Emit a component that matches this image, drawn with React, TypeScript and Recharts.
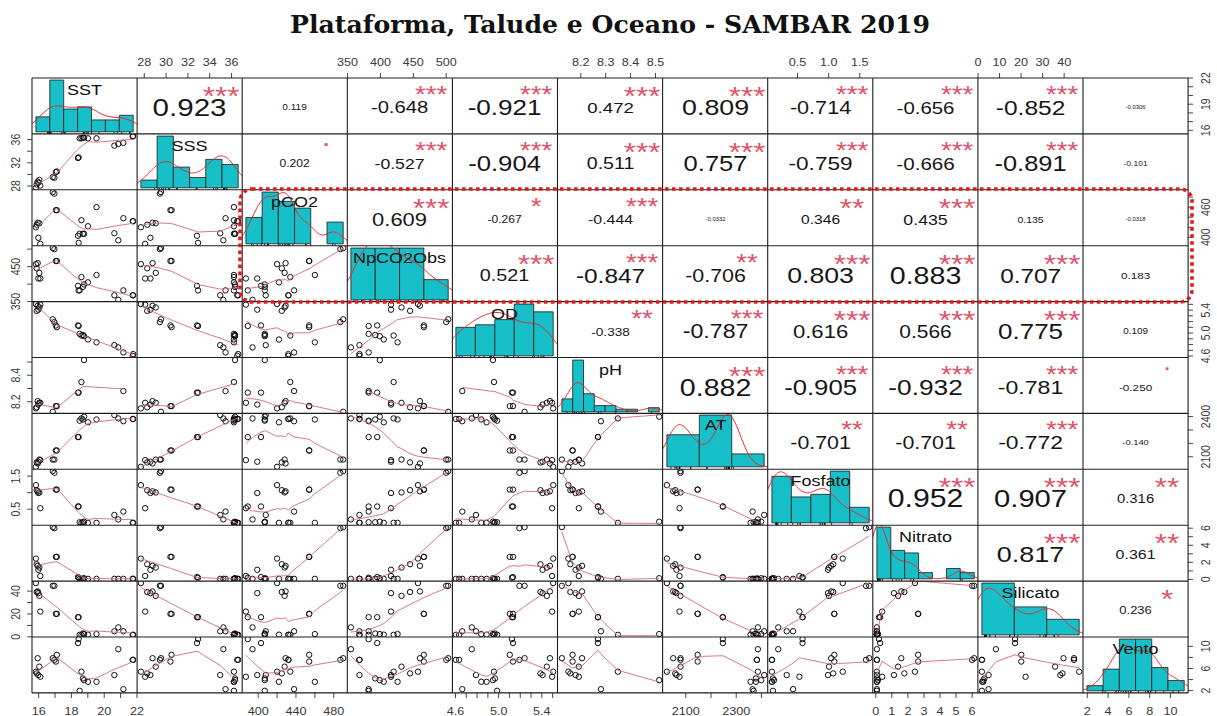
import React from 'react';
import { ComposedChart, Scatter, XAxis, YAxis, ReferenceArea } from 'recharts';

// ---------- measurements (one entry per sample, null = not measured) ----------
const VAR_NAMES = ['SST', 'SSS', 'pCO2', 'NpCO2Obs', 'OD', 'pH', 'AT', 'Fosfato', 'Nitrato', 'Silicato', 'Vento'];

const SST = [15.83, 15.94, 16.04, 15.98, 16.1, 15.88, 16.86, 16.96, 17.11, 17.05, 18.4, 18.44, 18.5, 18.61, 18.77, 19.01, 18.7, 19.53, 20.62, 20.86, 21.17, 21.77, 21.74];
const SSS = [27.69, 28.76, 29.05, 28.56, 28.08, 28.27, 29.53, 29.43, 30.5, 30.4, 32.83, 32.93, 36.22, 36.22, 36.32, 36.22, 36.32, 36.22, 34.96, 35.25, 35.45, 36.61, 36.52];
const PCO2 = [420, 429, 428, 399, 387, 425, 490, 487, 454, 454, 403, 389, 407, 434, 407, 422, 407, 460, 408, 394, 438, 432, 432];
const NPCO2OBS = [457, 460, 432, 416, 416, 445, 503, 500, 466, 466, 395, 382, 382, 420, 399, 405, 392, 426, 368, 355, 382, 368, 368];
const OD = [5.505, 5.475, 5.446, 5.407, 5.495, 5.387, 5.24, 5.192, 5.103, 5.133, 5.133, 5.123, 4.986, 4.957, 4.947, 4.888, 4.966, 4.839, 4.79, 4.751, 4.663, 4.634, 4.604];
const PH = [8.15, 8.205, 8.192, 8.179, 8.192, 8.158, 8.124, null, 8.167, 8.167, 8.269, 8.269, null, 8.349, 8.515, null, null, null, null, null, 8.281, null, null];
const AT = [2025, 2050, 2079, 2063, 2075, 2058, 2079, 2079, 2147, 2147, 2247, 2247, 2369, 2386, 2399, 2357, 2378, 2378, 2411, 2386, 2365, 2382, 2382];
const FOSFATO = [1.227, 1.04, 1.006, 0.989, 0.53, 1.074, 1.652, 1.601, 1.091, 1.091, 0.581, 0.581, 0.105, 0.088, 0.122, 0.088, 0.105, 0.088, 0.326, 0.19, 0.428, 0.088, 0.088];
const NITRATO = [2.44, 1.59, 1.39, 1.13, 0.4, 1.78, 6.13, 6.0, 2.64, 2.64, 0.27, 0.2, 0.07, 0.07, 0.14, 0.07, 0.07, 0.07, 0.07, 0.07, 0.07, 0.07, 0.07];
const SILICATO = [47.0, 39.7, 35.8, 38.2, 22.1, 39.2, 44.6, 44.6, 20.1, 20.1, 17.2, 17.2, 1.8, 1.8, 2.45, 1.96, 2.94, 2.45, 4.9, 8.3, 4.9, 1.8, 1.8];
const VENTO = [5.42, 7.86, 6.33, 4.81, 4.5, 5.11, 7.86, 7.56, 8.47, 7.25, 10.6, 11.32, 1.96, 5.42, 3.89, 3.59, 4.2, 3.59, 4.81, 9.49, 2.26, 7.56, 7.56];

const COLUMNS: (number | null)[][] = [SST, SSS, PCO2, NPCO2OBS, OD, PH, AT, FOSFATO, NITRATO, SILICATO, VENTO];

// ---------- histogram bins on the diagonal (first break, bin width, relative bar heights) ----------
const HIST_START = [15, 26, 380, 350, 4.6, 8.1, 2000, 0, 0, 0, 0];
const HIST_STEP = [1, 2, 20, 40, 0.2, 0.05, 200, 0.4, 1, 20, 2];
const HIST_HEIGHTS = [
  [0.29, 1, 0.44, 0.48, 0.23, 0.23, 0.32],
  [0.15, 1, 0.4, 0.2, 0.55, 0.45],
  [0.51, 1, 0.82, 0.69, 0, 0.42],
  [1, 1, 1, 0.39],
  [0.55, 0.6, 0.7, 1, 0.85],
  [0.25, 1, 0.35, 0.12, 0.12, 0.05, 0.05, 0, 0.08],
  [0.62, 1, 0.25],
  [0.9, 0.5, 0.55, 1, 0.3],
  [1, 0.55, 0.5, 0.12, 0, 0.2, 0.12],
  [1, 0.54, 0.3],
  [0.1, 0.42, 1, 1, 0.45, 0.2],
];

// ---------- correlation coefficients and significance (upper triangle, row by row) ----------
const COR_TEXT = [
  ['0.923', '0.119', '-0.648', '-0.921', '0.472', '0.809', '-0.714', '-0.656', '-0.852', '-0.0306'],
  ['0.202', '-0.527', '-0.904', '0.511', '0.757', '-0.759', '-0.666', '-0.891', '-0.101'],
  ['0.609', '-0.267', '-0.444', '-0.0332', '0.346', '0.435', '0.135', '-0.0318'],
  ['0.521', '-0.847', '-0.706', '0.803', '0.883', '0.707', '0.183'],
  ['-0.338', '-0.787', '0.616', '0.566', '0.775', '0.109'],
  ['0.882', '-0.905', '-0.932', '-0.781', '-0.250'],
  ['-0.701', '-0.701', '-0.772', '-0.140'],
  ['0.952', '0.907', '0.316'],
  ['0.817', '0.361'],
  ['0.236'],
];
const COR_STARS = [
  ['***', '', '***', '***', '***', '***', '***', '***', '***', ''],
  ['.', '***', '***', '***', '***', '***', '***', '***', ''],
  ['***', '*', '***', '', '**', '***', '', ''],
  ['***', '***', '**', '***', '***', '***', ''],
  ['**', '***', '***', '***', '***', ''],
  ['***', '***', '***', '***', '.'],
  ['**', '**', '***', ''],
  ['***', '***', '**'],
  ['***', '**'],
  ['*'],
];

// ---------- axis ticks and the labels printed on them ----------
const AXIS_TICKS = [
  [16, 17, 18, 19, 20, 21, 22],
  [28, 30, 32, 34, 36],
  [400, 420, 440, 460, 480],
  [350, 400, 450, 500],
  [4.6, 4.7, 4.8, 4.9, 5.0, 5.1, 5.2, 5.3, 5.4, 5.5],
  [8.2, 8.3, 8.4, 8.5],
  [2100, 2200, 2300, 2400],
  [0.5, 1.0, 1.5],
  [0, 1, 2, 3, 4, 5, 6],
  [0, 10, 20, 30, 40],
  [2, 4, 6, 8, 10],
];
const LABELS_HORIZONTAL = [
  ['16', '18', '20', '22'],
  ['28', '30', '32', '34', '36'],
  ['400', '440', '480'],
  ['350', '400', '450', '500'],
  ['4.6', '5.0', '5.4'],
  ['8.2', '8.3', '8.4', '8.5'],
  ['2100', '2300'],
  ['0.5', '1.0', '1.5'],
  ['0', '1', '2', '3', '4', '5', '6'],
  ['0', '10', '20', '30', '40'],
  ['2', '4', '6', '8', '10'],
];
const LABELS_VERTICAL = [
  ['16', '19', '22'],
  ['28', '32', '36'],
  ['400', '460'],
  ['350', '450'],
  ['4.6', '5.0', '5.4'],
  ['8.2', '8.4'],
  ['2100', '2400'],
  ['0.5', '1.5'],
  ['0', '2', '4', '6'],
  ['0', '20', '40'],
  ['2', '6', '10'],
];

// ---------- layout ----------
const N = VAR_NAMES.length;
const X0 = 32;
const Y0 = 78;
const CELL_W = 105.1;
const CELL_H = 55.9;
const SX = 1.2; // glyphs are drawn a little wider than tall
const FONT = "'Liberation Sans', Arial, sans-serif";
const AX_FS = 10.5;
const NO_MARGIN = { top: 0, right: 0, bottom: 0, left: 0 };
const BAR_FILL = '#17C0C8';
const SMOOTH_COLOR = '#CF6C78';
const DENSITY_COLOR = '#E3262B';
const STAR_COLOR = '#DF536B';
const AXIS_PAD = 22; // room for tick labels that hang past a panel edge

// ---------- helpers ----------
const present = (v: (number | null)[]) => v.filter((d): d is number => d !== null && d !== undefined);

function usrRange(v: (number | null)[]): [number, number] {
  const vals = present(v);
  const lo = Math.min(...vals);
  const hi = Math.max(...vals);
  const d = (hi - lo) * 0.04;
  return [lo - d, hi + d];
}
const USR = COLUMNS.map(usrRange);

function lowess(xIn: number[], yIn: number[], f = 2 / 3, iter = 3) {
  const order = xIn.map((_, i) => i).sort((a, b) => xIn[a] - xIn[b]);
  const x = order.map((i) => xIn[i]);
  const y = order.map((i) => yIn[i]);
  const n = x.length;
  const ys = new Array(n).fill(0);
  if (n < 2) return x.map((v, k) => ({ x: v, y: y[k] }));
  const ns = Math.max(2, Math.min(n, Math.floor(f * n + 1e-7)));
  const delta = 0.01 * (x[n - 1] - x[0]);
  const rw = new Array(n).fill(1);
  const res = new Array(n).fill(0);
  const w = new Array(n).fill(0);
  const range = x[n - 1] - x[0];

  const lowest = (xs: number, nleft: number, nright: number, userw: boolean): number | null => {
    const h = Math.max(xs - x[nleft], x[nright] - xs);
    const h9 = 0.999 * h;
    const h1 = 0.001 * h;
    let a = 0;
    let j = nleft;
    while (j < n) {
      w[j] = 0;
      const r = Math.abs(x[j] - xs);
      if (r <= h9) {
        w[j] = r <= h1 ? 1 : Math.pow(1 - Math.pow(r / h, 3), 3);
        if (userw) w[j] *= rw[j];
        a += w[j];
      } else if (x[j] > xs) break;
      j++;
    }
    const nrt = j - 1;
    if (a <= 0) return null;
    for (j = nleft; j <= nrt; j++) w[j] /= a;
    if (h > 0) {
      a = 0;
      for (j = nleft; j <= nrt; j++) a += w[j] * x[j];
      let b = xs - a;
      let c = 0;
      for (j = nleft; j <= nrt; j++) c += w[j] * (x[j] - a) * (x[j] - a);
      if (Math.sqrt(c) > 0.001 * range) {
        b /= c;
        for (j = nleft; j <= nrt; j++) w[j] *= b * (x[j] - a) + 1;
      }
    }
    let s = 0;
    for (j = nleft; j <= nrt; j++) s += w[j] * y[j];
    return s;
  };

  for (let it = 1; it <= iter + 1; it++) {
    let nleft = 0;
    let nright = ns - 1;
    let last = -1;
    let i = 0;
    for (;;) {
      if (nright < n - 1) {
        const d1 = x[i] - x[nleft];
        const d2 = x[nright + 1] - x[i];
        if (d1 > d2) {
          nleft++;
          nright++;
          continue;
        }
      }
      const v = lowest(x[i], nleft, nright, it > 1);
      ys[i] = v === null ? y[i] : v;
      if (last < i - 1) {
        const denom = x[i] - x[last];
        for (let j = last + 1; j < i; j++) {
          const alpha = (x[j] - x[last]) / denom;
          ys[j] = alpha * ys[i] + (1 - alpha) * ys[last];
        }
      }
      last = i;
      const cut = x[last] + delta;
      for (i = last + 1; i < n; i++) {
        if (x[i] > cut) break;
        if (x[i] === x[last]) {
          ys[i] = ys[last];
          last = i;
        }
      }
      i = Math.max(last + 1, i - 1);
      if (last >= n - 1) break;
    }
    for (let k = 0; k < n; k++) res[k] = y[k] - ys[k];
    if (it > iter) break;
    const sc = res.reduce((s, r) => s + Math.abs(r), 0) / n;
    const absr = res.map((r) => Math.abs(r)).sort((a, b) => a - b);
    const m1 = Math.floor(n / 2);
    const cmad = n % 2 === 0 ? 3 * (absr[m1 - 1] + absr[m1]) : 6 * absr[m1];
    if (cmad < 1e-7 * sc || cmad === 0) break;
    const c9 = 0.999 * cmad;
    const c1 = 0.001 * cmad;
    for (let k = 0; k < n; k++) {
      const r = Math.abs(res[k]);
      rw[k] = r <= c1 ? 1 : r <= c9 ? Math.pow(1 - Math.pow(r / cmad, 2), 2) : 0;
    }
  }
  return x.map((v, k) => ({ x: v, y: ys[k] }));
}

function quantile(sorted: number[], p: number) {
  const h = (sorted.length - 1) * p;
  const lo = Math.floor(h);
  const hi = Math.min(lo + 1, sorted.length - 1);
  return sorted[lo] + (h - lo) * (sorted[hi] - sorted[lo]);
}

function kernelDensity(values: number[]) {
  const n = values.length;
  const mean = values.reduce((a, b) => a + b, 0) / n;
  const sd = Math.sqrt(values.reduce((a, b) => a + (b - mean) * (b - mean), 0) / (n - 1));
  const s = [...values].sort((a, b) => a - b);
  const iqr = quantile(s, 0.75) - quantile(s, 0.25);
  let lo = Math.min(sd, iqr / 1.34);
  if (!(lo > 0)) lo = sd || Math.abs(s[0]) || 1;
  const bw = 0.9 * lo * Math.pow(n, -0.2);
  const from = s[0] - 3 * bw;
  const to = s[n - 1] + 3 * bw;
  const pts = [];
  const steps = 160;
  for (let k = 0; k <= steps; k++) {
    const xv = from + ((to - from) * k) / steps;
    let d = 0;
    for (const v of values) {
      const z = (xv - v) / bw;
      d += Math.exp(-0.5 * z * z);
    }
    pts.push({ x: xv, y: d / (n * bw * Math.sqrt(2 * Math.PI)) });
  }
  return pts;
}

const CHAR_W: Record<string, number> = { '.': 0.278, '-': 0.333, '*': 0.389 };
const emWidth = (s: string) => [...s].reduce((a, c) => a + (CHAR_W[c] ?? 0.556), 0);

const Empty = () => <g />;

// ---------- panels ----------
function LowerPanel({ row, col }: { row: number; col: number }) {
  const xs = COLUMNS[col];
  const ys = COLUMNS[row];
  const pts: { x: number; y: number }[] = [];
  xs.forEach((xv, k) => {
    const yv = ys[k];
    if (xv !== null && yv !== null) pts.push({ x: xv, y: yv });
  });
  const smooth = lowess(pts.map((p) => p.x), pts.map((p) => p.y));
  return (
    <ComposedChart width={CELL_W} height={CELL_H} margin={NO_MARGIN}>
      <XAxis hide type="number" dataKey="x" domain={USR[col]} allowDataOverflow />
      <YAxis hide type="number" dataKey="y" domain={USR[row]} allowDataOverflow />
      <Scatter
        data={pts}
        isAnimationActive={false}
        shape={(p: any) => <circle cx={p.cx} cy={p.cy} r={2.7} fill="none" stroke="#111" strokeWidth={1} />}
      />
      <Scatter
        data={smooth}
        isAnimationActive={false}
        line={{ stroke: SMOOTH_COLOR, strokeWidth: 0.9 }}
        lineType="joint"
        shape={Empty}
      />
    </ComposedChart>
  );
}

function DiagPanel({ v }: { v: number }) {
  const heights = HIST_HEIGHTS[v];
  const step = HIST_STEP[v];
  const start = HIST_START[v];
  const total = heights.reduce((a, b) => a + b, 0) * step;
  const bins = heights.map((h, k) => ({ x0: start + k * step, x1: start + (k + 1) * step, d: h / total }));
  const b0 = start;
  const bn = start + heights.length * step;
  const xDom: [number, number] = [b0 - 0.04 * (bn - b0), bn + 0.04 * (bn - b0)];
  const maxD = Math.max(...bins.map((b) => b.d));
  const yDom: [number, number] = [-0.04 * maxD, 1.04 * maxD];
  const values = present(COLUMNS[v]);
  const dens = kernelDensity(values);
  const rug = values.map((x) => ({ x, y: yDom[0] }));
  const label = [{ x: (xDom[0] + xDom[1]) / 2, y: yDom[0] + 0.8 * (yDom[1] - yDom[0]) }];
  return (
    <ComposedChart width={CELL_W} height={CELL_H} margin={NO_MARGIN}>
      <XAxis hide type="number" dataKey="x" domain={xDom} allowDataOverflow />
      <YAxis hide type="number" dataKey="y" domain={yDom} allowDataOverflow />
      {bins
        .filter((b) => b.d > 0)
        .map((b, k) => (
          <ReferenceArea
            key={k}
            x1={b.x0}
            x2={b.x1}
            y1={0}
            y2={b.d}
            fill={BAR_FILL}
            fillOpacity={1}
            stroke="#1b1b1b"
            strokeWidth={0.8}
            ifOverflow="visible"
          />
        ))}
      <Scatter data={dens} isAnimationActive={false} line={{ stroke: DENSITY_COLOR, strokeWidth: 1 }} lineType="joint" shape={Empty} />
      <Scatter
        data={rug}
        isAnimationActive={false}
        shape={(p: any) => <line x1={p.cx} x2={p.cx} y1={p.cy} y2={p.cy - 2} stroke="#000" strokeWidth={0.8} />}
      />
      <Scatter
        data={label}
        isAnimationActive={false}
        shape={(p: any) => (
          <text
            transform={`translate(${p.cx},${p.cy + 0.358 * 15}) scale(${SX},1)`}
            textAnchor="middle"
            fontFamily={FONT}
            fontSize={15}
            fill="#111"
          >
            {VAR_NAMES[v]}
          </text>
        )}
      />
    </ComposedChart>
  );
}

function UpperPanel({ row, col }: { row: number; col: number }) {
  const txt = COR_TEXT[row][col - row - 1];
  const stars = COR_STARS[row][col - row - 1];
  const r = Math.abs(parseFloat(txt));
  const K = 0.748 * CELL_W;
  const baseFs = K / (SX * emWidth(txt));
  const numFs = (baseFs * (r + 0.3)) / 1.3;
  const marks = [
    { x: 0.5, y: 0.5, kind: 'r' },
    { x: 0.8, y: 0.8, kind: 's' },
  ];
  return (
    <ComposedChart width={CELL_W} height={CELL_H} margin={NO_MARGIN}>
      <XAxis hide type="number" dataKey="x" domain={[0, 1]} />
      <YAxis hide type="number" dataKey="y" domain={[0, 1]} />
      <Scatter
        data={marks}
        isAnimationActive={false}
        shape={(p: any) => {
          if (p.payload.kind === 'r') {
            return (
              <text
                transform={`translate(${p.cx},${p.cy + 0.358 * numFs + 1.5}) scale(${SX},1)`}
                textAnchor="middle"
                fontFamily={FONT}
                fontSize={numFs}
                fill="#161616"
              >
                {txt}
              </text>
            );
          }
          if (!stars) return <g />;
          const dy = stars === '.' ? 0.05 * baseFs : 0.6 * baseFs;
          return (
            <text
              transform={`translate(${p.cx},${p.cy + dy}) scale(${SX},1)`}
              textAnchor="middle"
              fontFamily={FONT}
              fontSize={baseFs}
              fill={STAR_COLOR}
            >
              {stars}
            </text>
          );
        }}
      />
    </ComposedChart>
  );
}

// ---------- outer axes ----------
function hTick(labels: string[], labelY: number) {
  return (p: any) => {
    const v = p.payload?.value;
    const lab = labels.find((s) => Math.abs(parseFloat(s) - v) < 1e-9);
    if (lab === undefined) return <g />;
    return (
      <text
        transform={`translate(${p.x},${labelY + 0.358 * AX_FS}) scale(${SX},1)`}
        textAnchor="middle"
        fontFamily={FONT}
        fontSize={AX_FS}
        fill="#3a3a3a"
      >
        {lab}
      </text>
    );
  };
}

function vTick(labels: string[], labelX: number) {
  return (p: any) => {
    const v = p.payload?.value;
    const lab = labels.find((s) => Math.abs(parseFloat(s) - v) < 1e-9);
    if (lab === undefined) return <g />;
    return (
      <text
        transform={`translate(${labelX},${p.y}) scale(${SX},1) rotate(-90)`}
        x={0}
        y={0.358 * AX_FS}
        textAnchor="middle"
        fontFamily={FONT}
        fontSize={AX_FS}
        fill="#3a3a3a"
      >
        {lab}
      </text>
    );
  };
}

function HorizontalAxis({ col, side }: { col: number; side: 'top' | 'bottom' }) {
  const H = 30;
  const top = side === 'top' ? Y0 - (H - 1) : Y0 + N * CELL_H - 1;
  const labelY = side === 'top' ? 62.7 - top : 711 - top;
  const pts = present(COLUMNS[col]).map((x) => ({ x, y: 0.5 }));
  const w = CELL_W + 2 * AXIS_PAD;
  return (
    <div style={{ position: 'absolute', left: X0 + col * CELL_W - AXIS_PAD, top, width: w, height: H }}>
      <ComposedChart width={w} height={H} margin={{ top: 0, bottom: 0, left: AXIS_PAD, right: AXIS_PAD }}>
        <XAxis
          type="number"
          dataKey="x"
          domain={USR[col]}
          allowDataOverflow
          orientation={side}
          height={H - 1}
          ticks={AXIS_TICKS[col]}
          interval={0}
          tickSize={5}
          axisLine={false}
          tickLine={{ stroke: '#333', strokeWidth: 0.9 }}
          tick={hTick(LABELS_HORIZONTAL[col], labelY)}
        />
        <YAxis hide type="number" dataKey="y" domain={[0, 1]} />
        <Scatter data={pts} isAnimationActive={false} shape={Empty} />
      </ComposedChart>
    </div>
  );
}

function VerticalAxis({ row, side }: { row: number; side: 'left' | 'right' }) {
  const W = 30;
  const left = side === 'left' ? X0 - (W - 1) : X0 + N * CELL_W - 1;
  const labelX = side === 'left' ? 15 - left : 1205.5 - left;
  const pts = present(COLUMNS[row]).map((y) => ({ x: 0.5, y }));
  const h = CELL_H + 2 * AXIS_PAD;
  return (
    <div style={{ position: 'absolute', left, top: Y0 + row * CELL_H - AXIS_PAD, width: W, height: h }}>
      <ComposedChart width={W} height={h} margin={{ top: AXIS_PAD, bottom: AXIS_PAD, left: 0, right: 0 }}>
        <XAxis hide type="number" dataKey="x" domain={[0, 1]} />
        <YAxis
          type="number"
          dataKey="y"
          domain={USR[row]}
          allowDataOverflow
          orientation={side}
          width={W - 1}
          ticks={AXIS_TICKS[row]}
          interval={0}
          tickSize={5}
          axisLine={false}
          tickLine={{ stroke: '#333', strokeWidth: 0.9 }}
          tick={vTick(LABELS_VERTICAL[row], labelX)}
        />
        <Scatter data={pts} isAnimationActive={false} shape={Empty} />
      </ComposedChart>
    </div>
  );
}

export default function App() {
  const cells: React.ReactNode[] = [];
  for (let i = 0; i < N; i++) {
    for (let j = 0; j < N; j++) {
      cells.push(
        <div
          key={`c${i}-${j}`}
          style={{ position: 'absolute', left: X0 + j * CELL_W, top: Y0 + i * CELL_H, width: CELL_W, height: CELL_H }}
        >
          {i === j ? <DiagPanel v={i} /> : i > j ? <LowerPanel row={i} col={j} /> : <UpperPanel row={i} col={j} />}
        </div>
      );
    }
  }
  const axes: React.ReactNode[] = [];
  for (let k = 0; k < N; k++) {
    axes.push(<HorizontalAxis key={`h${k}`} col={k} side={k % 2 === 1 ? 'top' : 'bottom'} />);
    axes.push(<VerticalAxis key={`v${k}`} row={k} side={k % 2 === 1 ? 'left' : 'right'} />);
  }
  const gridLines: React.ReactNode[] = [];
  for (let k = 0; k <= N; k++) {
    gridLines.push(
      <line key={`gv${k}`} x1={X0 + k * CELL_W} x2={X0 + k * CELL_W} y1={Y0} y2={Y0 + N * CELL_H} stroke="#1e1e1e" strokeWidth={1.1} />
    );
    gridLines.push(
      <line key={`gh${k}`} x1={X0} x2={X0 + N * CELL_W} y1={Y0 + k * CELL_H} y2={Y0 + k * CELL_H} stroke="#1e1e1e" strokeWidth={1.1} />
    );
  }
  return (
    <div style={{ position: 'absolute', left: 0, top: 0, width: 1217, height: 716, background: '#fff', overflow: 'hidden' }}>
      {cells}
      {axes}
      <svg width={1217} height={716} style={{ position: 'absolute', left: 0, top: 0, pointerEvents: 'none' }}>
        <text
          x={610}
          y={33}
          textAnchor="middle"
          fontFamily="'DejaVu Serif', serif"
          fontWeight="bold"
          fontSize={24}
          textLength={640}
          lengthAdjust="spacingAndGlyphs"
          fill="#111"
        >
          Plataforma, Talude e Oceano - SAMBAR 2019
        </text>
        {gridLines}
        <rect
          x={240}
          y={189}
          width={952}
          height={113}
          rx={12}
          ry={12}
          fill="none"
          stroke="#E3171D"
          strokeWidth={3.6}
          strokeDasharray="3.6 3.4"
        />
      </svg>
    </div>
  );
}
